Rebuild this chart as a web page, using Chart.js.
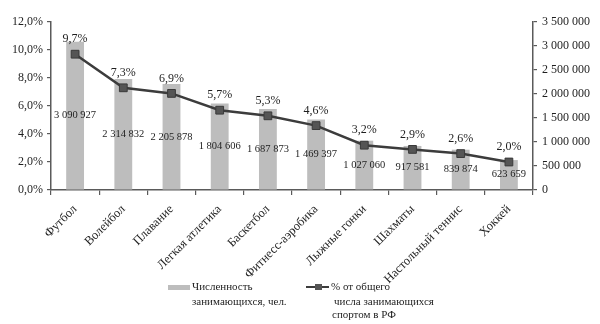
<!DOCTYPE html>
<html>
<head>
<meta charset="utf-8">
<script src="https://cdn.jsdelivr.net/npm/chart.js@4"></script>
<style>
html,body{margin:0;padding:0;background:#fff;}
#wrap{position:relative;width:600px;height:324px;}
</style>
</head>
<body>
<div id="wrap"><canvas id="c" width="600" height="324"></canvas></div>
<script>
const categories = ['Футбол','Волейбол','Плавание','Легкая атлетика','Баскетбол','Фитнесс-аэробика','Лыжные гонки','Шахматы','Настольный теннис','Хоккей'];
const participants = [3090927, 2314832, 2205878, 1804606, 1687873, 1469397, 1027060, 917581, 839874, 623659];
const shares = [9.7, 7.3, 6.9, 5.7, 5.3, 4.6, 3.2, 2.9, 2.6, 2.0];
const barLegend = ['Численность', 'занимающихся, чел.'];
const lineLegend = ['% от общего', 'числа занимающихся', 'спортом в РФ'];

const FONT = '"Liberation Serif", "Times New Roman", serif';
const TXT = '#1e1e1e';
const AXIS = '#5a5a5a';

function fmtInt(v){ return String(Math.round(v)).replace(/\B(?=(\d{3})+(?!\d))/g, ' '); }
function fmtPct(v){ return v.toFixed(1).replace('.', ',') + '%'; }

const labelPlugin = {
  id: 'labels',
  afterDatasetsDraw(chart){
    const ctx = chart.ctx;
    ctx.save();
    ctx.fillStyle = TXT;
    ctx.textAlign = 'center';
    ctx.textBaseline = 'middle';
    const barMeta = chart.getDatasetMeta(0);
    ctx.font = '10.5px ' + FONT;
    barMeta.data.forEach((el, i) => {
      ctx.fillText(fmtInt(participants[i]), el.x, (el.y + el.base) / 2);
    });
    const lineMeta = chart.getDatasetMeta(1);
    ctx.font = '12px ' + FONT;
    lineMeta.data.forEach((el, i) => {
      ctx.fillText(fmtPct(shares[i]), el.x, el.y - 15);
    });
    ctx.restore();
  }
};

const legendPlugin = {
  id: 'customLegend',
  afterDraw(chart){
    const ctx = chart.ctx;
    ctx.save();
    ctx.font = '11px ' + FONT;
    ctx.textBaseline = 'middle';
    ctx.textAlign = 'left';
    // bar legend
    ctx.fillStyle = '#bdbdbd';
    ctx.fillRect(168, 285, 22, 5);
    ctx.fillStyle = TXT;
    ctx.fillText(barLegend[0], 192, 287);
    ctx.fillText(barLegend[1], 192, 302);
    // line legend
    ctx.strokeStyle = '#3c3c3c';
    ctx.lineWidth = 2;
    ctx.beginPath(); ctx.moveTo(306, 287); ctx.lineTo(329, 287); ctx.stroke();
    ctx.fillStyle = '#555';
    ctx.fillRect(315, 284, 7, 6);
    ctx.fillStyle = TXT;
    ctx.fillText(lineLegend[0], 331, 287);
    ctx.fillText(lineLegend[1], 334, 302);
    ctx.fillText(lineLegend[2], 332, 315);
    ctx.restore();
  }
};

new Chart(document.getElementById('c'), {
  type: 'bar',
  data: {
    labels: categories,
    datasets: [
      {
        type: 'bar',
        label: barLegend.join(' '),
        data: participants,
        yAxisID: 'y1',
        backgroundColor: '#bdbdbd',
        borderWidth: 0,
        barPercentage: 0.74,
        categoryPercentage: 0.5,
        order: 1
      },
      {
        type: 'line',
        label: lineLegend.join(' '),
        data: shares,
        yAxisID: 'y',
        borderColor: '#3c3c3c',
        borderWidth: 2.5,
        pointStyle: 'rect',
        pointRadius: 5.5,
        pointBackgroundColor: '#555555',
        pointBorderColor: '#3a3a3a',
        pointBorderWidth: 1,
        tension: 0,
        order: 0
      }
    ]
  },
  options: {
    responsive: false,
    animation: false,
    devicePixelRatio: 1,
    layout: { padding: { top: 22, left: 0, right: 0, bottom: 0 } },
    plugins: { legend: { display: false }, tooltip: { enabled: false } },
    scales: {
      x: {
        grid: { display: true, drawOnChartArea: false, drawTicks: true, tickLength: 5, color: AXIS, lineWidth: 1.2, offset: true },
        border: { display: true, color: AXIS, width: 1.5 },
        ticks: { maxRotation: 45, minRotation: 45, color: TXT, font: { family: FONT, size: 12.5 }, padding: 7 },
        afterFit(s){ s.height = 134; }
      },
      y: {
        position: 'left',
        min: 0, max: 12,
        ticks: { stepSize: 2, color: TXT, font: { family: FONT, size: 12 }, callback: v => fmtPct(v), padding: 4 },
        grid: { display: true, drawOnChartArea: false, drawTicks: true, tickLength: 4, color: AXIS, lineWidth: 1.2 },
        border: { display: true, color: AXIS, width: 1.5 },
        afterFit(s){ s.width = 51; }
      },
      y1: {
        position: 'right',
        min: 0, max: 3500000,
        ticks: { stepSize: 500000, color: TXT, font: { family: FONT, size: 12 }, callback: v => fmtInt(v), padding: 5 },
        grid: { display: true, drawOnChartArea: false, drawTicks: true, tickLength: 4, color: AXIS, lineWidth: 1.2 },
        border: { display: true, color: AXIS, width: 1.5 },
        afterFit(s){ s.width = 67; }
      }
    }
  },
  plugins: [labelPlugin, legendPlugin]
});
</script>
</body>
</html>
